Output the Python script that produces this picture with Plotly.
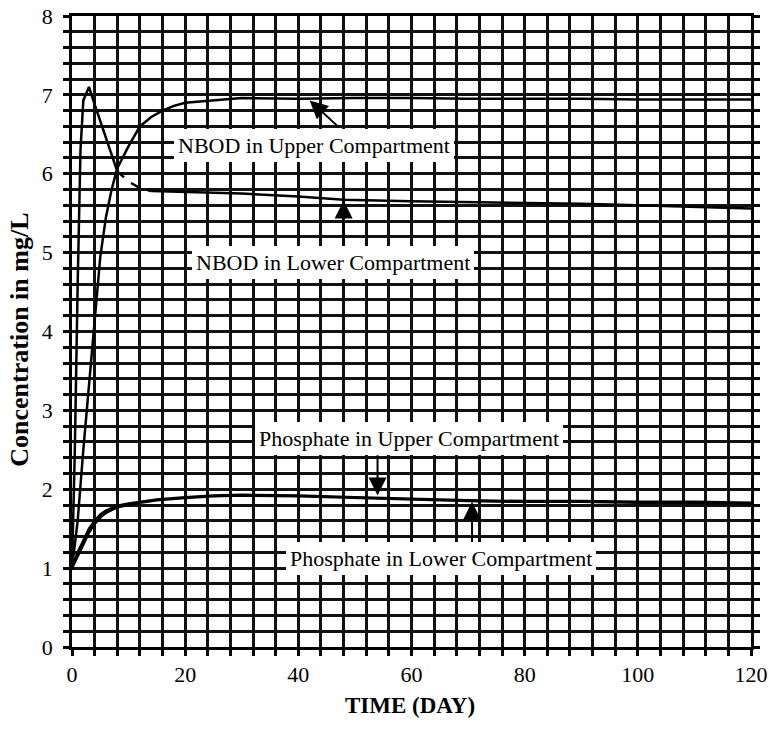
import numpy as np
import plotly.graph_objects as go

# ---- data ----
nbod_upper_day = [0, 1, 2, 3, 4, 5, 6, 7, 8, 10, 12, 14, 16, 18, 20, 25, 30, 40, 50, 60, 70, 80, 90, 100, 110, 120]
nbod_upper_val = [1.0, 1.6, 2.5, 3.3, 4.2, 4.95, 5.45, 5.8, 6.07, 6.35, 6.6, 6.72, 6.8, 6.86, 6.9, 6.93, 6.96, 6.95, 6.96, 6.96, 6.95, 6.95, 6.95, 6.94, 6.94, 6.94]

nbod_lower_day = [0, 0.5, 1, 1.5, 2, 3, 4, 5, 6, 7, 8, 10, 12, 14, 20, 30, 40, 48, 60, 70, 80, 90, 100, 110, 120]
nbod_lower_val = [1.0, 2.5, 4.6, 6.3, 6.93, 7.1, 6.88, 6.66, 6.44, 6.22, 6.03, 5.9, 5.82, 5.78, 5.77, 5.75, 5.71, 5.67, 5.65, 5.64, 5.63, 5.62, 5.6, 5.58, 5.56]

phos_day = [0, 1, 2, 3, 4, 5, 6, 8, 10, 12, 15, 20, 25, 30, 40, 50, 60, 70, 80, 90, 100, 110, 120]
phos_upper_val = [1.0, 1.2, 1.35, 1.5, 1.6, 1.68, 1.73, 1.79, 1.82, 1.84, 1.87, 1.9, 1.92, 1.93, 1.92, 1.9, 1.88, 1.86, 1.85, 1.85, 1.84, 1.84, 1.83]
phos_lower_val = [1.0, 1.15, 1.3, 1.45, 1.56, 1.64, 1.7, 1.77, 1.8, 1.83, 1.86, 1.89, 1.91, 1.92, 1.91, 1.89, 1.87, 1.85, 1.84, 1.84, 1.83, 1.83, 1.82]

x_ticks = [0, 20, 40, 60, 80, 100, 120]
y_ticks = [0, 1, 2, 3, 4, 5, 6, 7, 8]

labels = ["NBOD in Upper Compartment", "NBOD in Lower Compartment",
          "Phosphate in Upper Compartment", "Phosphate in Lower Compartment"]
label_x = [42.8, 46.1, 59.5, 65.2]
label_y = [6.36, 4.88, 2.64, 1.12]
# arrow: head (x, y) and tail (ax, ay) in data units
arrow_x = [42.0, 48.0, 54.0, 70.7]
arrow_y = [6.93, 5.66, 1.92, 1.84]
arrow_ax = [47.3, 48.0, 54.0, 70.7]
arrow_ay = [6.58, 5.08, 2.45, 1.30]

FONT = "Liberation Serif, Times New Roman, serif"
LINE = dict(color="black", width=2.5)

fig = go.Figure()
fig.add_trace(go.Scatter(x=nbod_upper_day, y=nbod_upper_val, mode="lines", line=LINE, showlegend=False))

d = np.array(nbod_lower_day)
v = np.array(nbod_lower_val)
m1 = d <= 8
m2 = (d >= 8) & (d <= 14)
m3 = d >= 14
fig.add_trace(go.Scatter(x=d[m1], y=v[m1], mode="lines", line=LINE, showlegend=False))
fig.add_trace(go.Scatter(x=d[m2], y=v[m2], mode="lines", line=dict(color="black", width=2.5, dash="dash"), showlegend=False))
fig.add_trace(go.Scatter(x=d[m3], y=v[m3], mode="lines", line=LINE, showlegend=False))

fig.add_trace(go.Scatter(x=phos_day, y=phos_upper_val, mode="lines", line=LINE, showlegend=False))
fig.add_trace(go.Scatter(x=phos_day, y=phos_lower_val, mode="lines", line=LINE, showlegend=False))

annotations = []
for hx, hy, tx, ty in zip(arrow_x, arrow_y, arrow_ax, arrow_ay):
    annotations.append(dict(x=hx, y=hy, ax=tx, ay=ty, xref="x", yref="y", axref="x", ayref="y",
                            text="", showarrow=True, arrowhead=2, arrowsize=1.8, arrowwidth=2,
                            arrowcolor="black"))
for t, lx, ly in zip(labels, label_x, label_y):
    annotations.append(dict(x=lx, y=ly, xref="x", yref="y", text=t, showarrow=False,
                            bgcolor="white", borderpad=4, borderwidth=0,
                            font=dict(family=FONT, size=22, color="black")))
# axis titles
annotations.append(dict(x=0.498, y=0, xref="paper", yref="paper", yshift=-58, showarrow=False,
                        xanchor="center", yanchor="middle", text="<b>TIME (DAY)</b>",
                        font=dict(family=FONT, size=23, color="black")))
annotations.append(dict(x=0, y=0.487, xref="paper", yref="paper", xshift=-52, showarrow=False,
                        xanchor="center", yanchor="middle", textangle=-90,
                        text="<b>Concentration in mg/L</b>",
                        font=dict(family=FONT, size=26, color="black")))

grid_color = "#111111"
fig.update_layout(
    width=769, height=729,
    margin=dict(l=72, r=18, t=16, b=82),
    paper_bgcolor="white", plot_bgcolor="white",
    font=dict(family=FONT, size=22, color="black"),
    annotations=annotations,
    xaxis=dict(
        range=[0, 120], tickvals=x_ticks, ticktext=[str(t) for t in x_ticks],
        automargin=False,
        showgrid=True, gridcolor=grid_color, gridwidth=2.5,
        showline=True, linecolor="black", linewidth=2.5, mirror=True,
        ticks="outside", ticklen=6, tickwidth=2.5, tickcolor="black",
        ticklabelstandoff=0,
        minor=dict(dtick=4, showgrid=True, gridcolor=grid_color, gridwidth=2.5,
                   ticks="outside", ticklen=6, tickwidth=2.5, tickcolor="black"),
        zeroline=False,
        tickfont=dict(family=FONT, size=22),
    ),
    yaxis=dict(
        range=[0, 8], tickvals=y_ticks, ticktext=[str(t) for t in y_ticks],
        automargin=False,
        showgrid=True, gridcolor=grid_color, gridwidth=2.5,
        showline=True, linecolor="black", linewidth=2.5, mirror="allticks",
        ticks="outside", ticklen=6, tickwidth=2.5, tickcolor="black",
        ticklabelstandoff=6,
        minor=dict(dtick=0.2, showgrid=True, gridcolor=grid_color, gridwidth=2.5,
                   ticks="outside", ticklen=6, tickwidth=2.5, tickcolor="black"),
        zeroline=False,
        tickfont=dict(family=FONT, size=22),
    ),
)

fig.write_html("out.html", config={"displayModeBar": False},
               post_script="document.body.style.margin='0';")
